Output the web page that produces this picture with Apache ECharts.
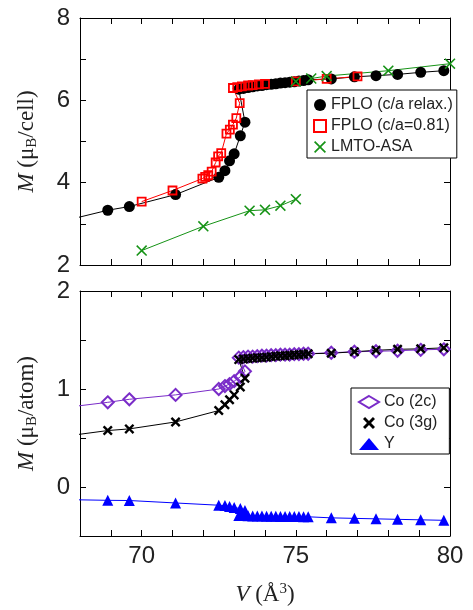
<!DOCTYPE html>
<html>
<head>
<meta charset="utf-8">
<script src="https://cdn.jsdelivr.net/npm/echarts@6/dist/echarts.min.js"></script>
<style>
  html, body { margin: 0; padding: 0; background: #fff; }
  #chart { width: 473px; height: 610px; }
</style>
</head>
<body>
<div id="chart"></div>
<script>
// Volumes (Å^3) of the c/a-relaxed FPLO calculations: low-moment branch, then high-moment branch
const vRelax = [67.8, 68.9, 69.6, 71.1, 72.5, 72.7, 72.85, 73.0, 73.2, 73.35,
  73.15, 73.3, 73.45, 73.6, 73.75, 73.9, 74.05, 74.2, 74.35, 74.5, 74.65, 74.8, 74.95, 75.1, 75.25, 75.4,
  76.15, 76.9, 77.6, 78.3, 79.05, 79.8];
// Total moment per cell, FPLO (c/a relax.)
const mCellRelax = [3.13, 3.33, 3.42, 3.71, 4.13, 4.29, 4.53, 4.70, 5.14, 5.47,
  6.27, 6.29, 6.31, 6.33, 6.35, 6.36, 6.38, 6.39, 6.40, 6.42, 6.43, 6.44, 6.45, 6.47, 6.48, 6.50,
  6.52, 6.57, 6.60, 6.63, 6.68, 6.72];

// FPLO with fixed c/a = 0.81
const vFixed = [70.0, 71.0, 71.97, 72.06, 72.16, 72.27, 72.4, 72.48, 72.58, 72.75, 72.86, 72.96, 73.07, 73.18,
  72.96, 73.1, 73.25, 73.45, 73.6, 73.8, 74.0, 75.0, 76.0, 77.0];
const mCellFixed = [3.54, 3.81, 4.10, 4.14, 4.18, 4.27, 4.49, 4.64, 4.72, 5.19, 5.29, 5.41, 5.57, 5.93,
  6.30, 6.32, 6.34, 6.36, 6.37, 6.39, 6.40, 6.46, 6.52, 6.58];

// LMTO-ASA, two separate branches
const vLmtoLow = [70.0, 72.0, 73.5, 74.0, 74.5, 75.0];
const mLmtoLow = [2.35, 2.94, 3.32, 3.34, 3.44, 3.60];
const vLmtoHigh = [75.0, 75.5, 76.0, 78.0, 80.0];
const mLmtoHigh = [6.46, 6.53, 6.59, 6.72, 6.89];

// Site-resolved moments (per atom), same volumes as vRelax
const mCo2c = [0.822, 0.864, 0.895, 0.94, 1.00, 1.03, 1.05, 1.08, 1.125, 1.18,
  1.32, 1.325, 1.33, 1.33, 1.335, 1.34, 1.34, 1.345, 1.345, 1.35, 1.35, 1.35, 1.355, 1.355, 1.36, 1.36,
  1.37, 1.38, 1.385, 1.39, 1.40, 1.405];
const mCo3g = [0.53, 0.576, 0.593, 0.664, 0.78, 0.84, 0.89, 0.94, 1.02, 1.11,
  1.30, 1.305, 1.31, 1.315, 1.32, 1.32, 1.325, 1.33, 1.335, 1.34, 1.34, 1.345, 1.35, 1.35, 1.355, 1.36,
  1.365, 1.38, 1.395, 1.405, 1.41, 1.42];
const mY = [-0.13, -0.136, -0.138, -0.163, -0.186, -0.19, -0.20, -0.21, -0.22, -0.24,
  -0.29, -0.292, -0.294, -0.295, -0.296, -0.297, -0.298, -0.298, -0.299, -0.30, -0.30, -0.301, -0.302, -0.302, -0.303, -0.304,
  -0.315, -0.32, -0.325, -0.33, -0.335, -0.34];

// Axis ticks
const xTicks = { min: 68, max: 80, step: 1, labelEvery: 5 };
const yTopTicks = { min: 2, max: 8, step: 1, labelEvery: 2 };
const yBotTicks = { min: -0.5, max: 2, step: 0.5, labelEvery: 1 };

const legendTop = ['FPLO (c/a relax.)', 'FPLO (c/a=0.81)', 'LMTO-ASA'];
const legendBot = ['Co (2c)', 'Co (3g)', 'Y'];

const zip = (xs, ys) => xs.map((x, i) => [x, ys[i]]);
const isMultiple = (v, m) => Math.abs(v / m - Math.round(v / m)) < 1e-6;

const SANS = 'Liberation Sans';
const SERIF = 'Liberation Serif';
const CROSS_THIN = 'path://M0,1L1,0L5,4L9,0L10,1L6,5L10,9L9,10L5,6L1,10L0,9L4,5Z';
const CROSS_BOLD = 'path://M0,1.7L1.7,0L5,3.3L8.3,0L10,1.7L6.7,5L10,8.3L8.3,10L5,6.7L1.7,10L0,8.3L3.3,5Z';
const GREEN = '#169316';
const PURPLE = '#7a2cc8';

function xAxis(grid, position, showLabels, extra) {
  return Object.assign({
    type: 'value', gridIndex: grid, position: position,
    min: xTicks.min, max: xTicks.max, interval: xTicks.step,
    axisLine: { show: true, onZero: false, lineStyle: { color: '#000', width: 1 } },
    axisTick: { show: true, inside: true, length: 6, lineStyle: { color: '#000', width: 1 } },
    axisLabel: {
      show: showLabels, margin: 8, fontFamily: SANS, fontSize: 24, color: '#222',
      formatter: v => isMultiple(v, xTicks.labelEvery) ? String(v) : ''
    },
    splitLine: { show: false }
  }, extra || {});
}

function yAxis(grid, position, ticks, showLabels, extra) {
  return Object.assign({
    type: 'value', gridIndex: grid, position: position,
    min: ticks.min, max: ticks.max, interval: ticks.step,
    axisLine: { show: true, onZero: false, lineStyle: { color: '#000', width: 1 } },
    axisTick: { show: true, inside: true, length: 6, lineStyle: { color: '#000', width: 1 } },
    axisLabel: {
      show: showLabels, margin: 10, fontFamily: SANS, fontSize: 24, color: '#222',
      formatter: v => isMultiple(v, ticks.labelEvery) ? String(v) : ''
    },
    splitLine: { show: false }
  }, extra || {});
}

const titleRich = {
  i: { fontFamily: SERIF, fontSize: 23, fontStyle: 'italic', color: '#222', lineHeight: 26 },
  n: { fontFamily: SERIF, fontSize: 23, color: '#222', lineHeight: 26 },
  sub: { fontFamily: SERIF, fontSize: 15, color: '#222', verticalAlign: 'bottom', lineHeight: 26, padding: [10, 0, 0, 0] },
  sup: { fontFamily: SERIF, fontSize: 15, color: '#222', verticalAlign: 'top', lineHeight: 26, padding: [0, 0, 10, 0] }
};

function yName(text) {
  return {
    name: text, nameLocation: 'middle', nameRotate: 90, nameGap: 40,
    nameTextStyle: { rich: titleRich }
  };
}

const legendCommon = {
  orient: 'vertical', backgroundColor: '#fff', borderColor: '#000', borderWidth: 1,
  itemGap: 5, itemHeight: 12,
  textStyle: { fontFamily: SANS, fontSize: 16, color: '#222', lineHeight: 16 },
  selectedMode: false
};

const option = {
  animation: false,
  backgroundColor: '#fff',
  grid: [
    { left: 80, top: 18, width: 370, height: 247, outerBoundsMode: 'none' },
    { left: 80, top: 291, width: 370, height: 245, outerBoundsMode: 'none' }
  ],
  xAxis: [
    xAxis(0, 'bottom', false),
    xAxis(0, 'top', false),
    xAxis(1, 'bottom', true, {
      name: '{i|V}{n| (Å}{sup|3}{n|)}', nameLocation: 'middle', nameGap: 46,
      nameTextStyle: { rich: titleRich }
    }),
    xAxis(1, 'top', false)
  ],
  yAxis: [
    yAxis(0, 'left', yTopTicks, true, yName('{i|M}{n| (μ}{sub|B}{n|/cell)}')),
    yAxis(0, 'right', yTopTicks, false),
    yAxis(1, 'left', yBotTicks, true, yName('{i|M}{n| (μ}{sub|B}{n|/atom)}')),
    yAxis(1, 'right', yBotTicks, false)
  ],
  legend: [
    Object.assign({}, legendCommon, {
      left: 307, top: 90, itemWidth: 12, padding: [7, 4, 3, 6],
      data: [
        { name: legendTop[0], icon: 'circle', itemStyle: { color: '#000', borderWidth: 0 } },
        { name: legendTop[1], icon: 'rect', itemStyle: { color: 'rgba(0,0,0,0)', borderColor: '#f00', borderWidth: 2 } },
        { name: legendTop[2], icon: CROSS_THIN, itemStyle: { color: GREEN, borderWidth: 0 } }
      ]
    }),
    Object.assign({}, legendCommon, {
      left: 351, top: 388, itemWidth: 20, padding: [6, 12, 2, 7],
      data: [
        { name: legendBot[0], icon: 'diamond', itemStyle: { color: 'rgba(0,0,0,0)', borderColor: PURPLE, borderWidth: 2 } },
        { name: legendBot[1], icon: CROSS_BOLD, itemStyle: { color: '#000', borderWidth: 0 } },
        { name: legendBot[2], icon: 'triangle', itemStyle: { color: '#0000ff', borderWidth: 0 } }
      ]
    })
  ],
  series: [
    {
      name: legendTop[0], type: 'line', xAxisIndex: 0, yAxisIndex: 0,
      data: zip(vRelax, mCellRelax), symbol: 'circle', symbolSize: 11,
      itemStyle: { color: '#000' }, lineStyle: { color: '#000', width: 1 }
    },
    {
      name: legendTop[1], type: 'line', xAxisIndex: 0, yAxisIndex: 0,
      data: zip(vFixed, mCellFixed), symbol: 'rect', symbolSize: 8,
      itemStyle: { color: 'rgba(0,0,0,0)', borderColor: '#f00', borderWidth: 1.8 },
      lineStyle: { color: '#f00', width: 1 }
    },
    {
      name: legendTop[2], type: 'line', xAxisIndex: 0, yAxisIndex: 0,
      data: zip(vLmtoLow, mLmtoLow), symbol: CROSS_THIN, symbolSize: 11,
      itemStyle: { color: GREEN }, lineStyle: { color: GREEN, width: 1 }
    },
    {
      name: legendTop[2], type: 'line', xAxisIndex: 0, yAxisIndex: 0,
      data: zip(vLmtoHigh, mLmtoHigh), symbol: CROSS_THIN, symbolSize: 11,
      itemStyle: { color: GREEN }, lineStyle: { color: GREEN, width: 1 }
    },
    {
      name: legendBot[0], type: 'line', xAxisIndex: 2, yAxisIndex: 2,
      data: zip(vRelax, mCo2c), symbol: 'diamond', symbolSize: 12,
      itemStyle: { color: 'rgba(0,0,0,0)', borderColor: PURPLE, borderWidth: 2 },
      lineStyle: { color: PURPLE, width: 1 }
    },
    {
      name: legendBot[1], type: 'line', xAxisIndex: 2, yAxisIndex: 2,
      data: zip(vRelax, mCo3g), symbol: CROSS_BOLD, symbolSize: 10,
      itemStyle: { color: '#000' }, lineStyle: { color: '#000', width: 1 }
    },
    {
      name: legendBot[2], type: 'line', xAxisIndex: 2, yAxisIndex: 2,
      data: zip(vRelax, mY), symbol: 'triangle', symbolSize: 11,
      itemStyle: { color: '#0000ff' }, lineStyle: { color: '#0000ff', width: 1 }
    }
  ]
};

const chart = echarts.init(document.getElementById('chart'), null, { renderer: 'canvas' });
chart.setOption(option);
</script>
</body>
</html>
